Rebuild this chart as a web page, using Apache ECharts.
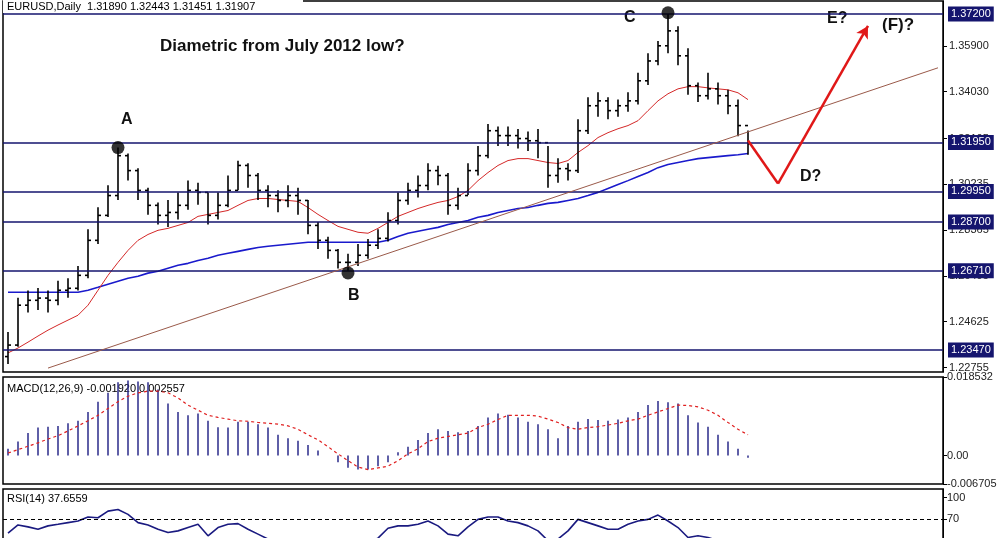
<!DOCTYPE html>
<html>
<head>
<meta charset="utf-8">
<script src="https://cdn.jsdelivr.net/npm/echarts@6/dist/echarts.min.js"></script>
<style>
  html, body { margin: 0; padding: 0; background: #fff; }
  #chart { width: 1001px; height: 538px; }
</style>
</head>
<body>
<div id="chart"></div>
<script>
// daily EURUSD bars
const closes = [
  1.2367,1.2530,1.2550,1.2559,1.2550,1.2591,1.2599,1.2652,1.2795,1.2897,
  1.2978,1.3141,1.3080,1.2999,1.2938,1.2897,1.2909,1.2938,1.2999,1.2991,
  1.2897,1.2938,1.2999,1.3101,1.3060,1.2999,1.2978,1.2958,1.2978,1.2958,
  1.2856,1.2795,1.2754,1.2705,1.2705,1.2734,1.2775,1.2803,1.2876,1.2958,
  1.2999,1.3019,1.3080,1.3060,1.2938,1.2978,1.3080,1.3141,1.3243,1.3223,
  1.3223,1.3211,1.3202,1.3194,1.3060,1.3088,1.3080,1.3243,1.3345,1.3365,
  1.3325,1.3345,1.3365,1.3447,1.3528,1.3590,1.3651,1.3549,1.3427,1.3386,
  1.3414,1.3386,1.3345,1.3264,1.3190
];
const highs = [
  1.2420,1.2560,1.2590,1.2600,1.2590,1.2630,1.2640,1.2690,1.2840,1.2930,
  1.3020,1.3174,1.3150,1.3090,1.3010,1.2950,1.2960,1.2990,1.3040,1.3030,
  1.2990,1.2990,1.3060,1.3120,1.3110,1.3070,1.3020,1.3000,1.3020,1.3010,
  1.2960,1.2870,1.2810,1.2760,1.2740,1.2780,1.2800,1.2840,1.2910,1.2990,
  1.3030,1.3060,1.3110,1.3100,1.3070,1.3010,1.3110,1.3180,1.3270,1.3260,
  1.3260,1.3250,1.3240,1.3250,1.3180,1.3130,1.3110,1.3290,1.3380,1.3400,
  1.3380,1.3370,1.3400,1.3480,1.3560,1.3610,1.3720,1.3670,1.3580,1.3440,
  1.3480,1.3440,1.3410,1.3370,1.3244
];
const lows = [
  1.2290,1.2360,1.2500,1.2510,1.2500,1.2530,1.2560,1.2590,1.2640,1.2780,
  1.2890,1.2960,1.3040,1.2960,1.2900,1.2860,1.2850,1.2880,1.2920,1.2940,
  1.2860,1.2880,1.2930,1.3000,1.3010,1.2960,1.2930,1.2910,1.2930,1.2900,
  1.2820,1.2760,1.2720,1.2680,1.2671,1.2690,1.2720,1.2760,1.2790,1.2860,
  1.2940,1.2970,1.3000,1.3020,1.2900,1.2920,1.2980,1.3060,1.3130,1.3180,
  1.3180,1.3170,1.3160,1.3130,1.3010,1.3030,1.3040,1.3070,1.3230,1.3300,
  1.3290,1.3300,1.3320,1.3350,1.3430,1.3510,1.3560,1.3510,1.3390,1.3360,
  1.3370,1.3350,1.3310,1.3220,1.3145
];
const maFast = [
  1.2335,1.2355,1.2379,1.2404,1.2428,1.2449,1.2469,1.2489,1.2530,1.2591,
  1.2652,1.2705,1.2754,1.2795,1.2819,1.2836,1.2844,1.2856,1.2868,1.2893,
  1.2901,1.2909,1.2917,1.2938,1.2958,1.2966,1.2966,1.2962,1.2958,1.2954,
  1.2929,1.2901,1.2876,1.2852,1.2840,1.2828,1.2824,1.2844,1.2868,1.2893,
  1.2909,1.2925,1.2938,1.2950,1.2958,1.2974,1.2999,1.3039,1.3072,1.3101,
  1.3121,1.3129,1.3129,1.3121,1.3113,1.3109,1.3121,1.3154,1.3182,1.3215,
  1.3235,1.3251,1.3264,1.3284,1.3325,1.3365,1.3394,1.3414,1.3423,1.3423,
  1.3418,1.3414,1.3410,1.3398,1.3370
];
const maSlow = [
  1.2583,1.2583,1.2583,1.2583,1.2583,1.2583,1.2583,1.2583,1.2591,1.2603,
  1.2616,1.2628,1.2640,1.2648,1.2661,1.2669,1.2681,1.2693,1.2701,1.2713,
  1.2722,1.2734,1.2742,1.2750,1.2758,1.2766,1.2771,1.2775,1.2779,1.2783,
  1.2787,1.2787,1.2787,1.2787,1.2787,1.2787,1.2787,1.2787,1.2795,1.2811,
  1.2824,1.2832,1.2840,1.2848,1.2860,1.2868,1.2876,1.2889,1.2897,1.2909,
  1.2917,1.2925,1.2929,1.2938,1.2946,1.2950,1.2958,1.2966,1.2978,1.2991,
  1.3007,1.3023,1.3039,1.3056,1.3072,1.3092,1.3105,1.3113,1.3121,1.3129,
  1.3133,1.3137,1.3141,1.3145,1.3150
];
const macdHist = [
  0.0016,0.0033,0.0053,0.0066,0.0068,0.0070,0.0076,0.0082,0.0103,0.0127,
  0.0148,0.0173,0.0177,0.0175,0.0173,0.0156,0.0123,0.0103,0.0095,0.0099,
  0.0082,0.0067,0.0066,0.0080,0.0080,0.0074,0.0066,0.0049,0.0041,0.0035,
  0.0025,0.0012,0.0000,-0.0016,-0.0029,-0.0033,-0.0033,-0.0025,-0.0016,0.0008,
  0.0021,0.0037,0.0053,0.0062,0.0058,0.0055,0.0058,0.0070,0.0090,0.0099,
  0.0096,0.0090,0.0080,0.0074,0.0062,0.0041,0.0070,0.0080,0.0086,0.0084,
  0.0082,0.0085,0.0090,0.0103,0.0119,0.0129,0.0126,0.0123,0.0095,0.0078,
  0.0068,0.0049,0.0033,0.0016,-0.0005
];
const macdSignal = [
  0.0006,0.0014,0.0022,0.0030,0.0039,0.0047,0.0058,0.0070,0.0082,0.0095,
  0.0111,0.0127,0.0140,0.0148,0.0152,0.0152,0.0148,0.0136,0.0119,0.0107,
  0.0095,0.0090,0.0086,0.0082,0.0081,0.0078,0.0076,0.0074,0.0070,0.0062,
  0.0049,0.0037,0.0021,0.0004,-0.0012,-0.0027,-0.0033,-0.0029,-0.0025,-0.0012,
  0.0004,0.0016,0.0033,0.0041,0.0045,0.0049,0.0053,0.0066,0.0074,0.0085,
  0.0095,0.0095,0.0095,0.0093,0.0086,0.0078,0.0066,0.0062,0.0066,0.0068,
  0.0072,0.0076,0.0082,0.0086,0.0095,0.0103,0.0111,0.0119,0.0118,0.0115,
  0.0107,0.0095,0.0078,0.0062,0.0049
];
const rsi = [
  50.9,62.3,59.6,56.4,61.0,63.2,65.5,67.8,73.2,72.3,
  81.4,83.7,76.9,65.5,62.3,56.4,51.9,54.1,58.7,63.2,
  47.3,58.7,63.2,64.1,56.4,49.6,42.8,40,42,38,
  32,30,28,25,27,33,38,44,57.8,61.0,
  61.0,63.2,67.8,61.0,49.6,47.3,59.6,70.0,73.2,73.2,
  67.8,65.5,61.0,54.1,40.5,42.8,54.1,70.0,65.5,61.0,
  56.4,56.4,63.2,67.8,70.0,75.9,67.8,58.7,45.0,47.3,
  45.0,40.5,38.2,38.2,37.7
];
const levels = [1.3720, 1.3195, 1.2995, 1.2870, 1.2671, 1.2347];
const priceTicks = [1.22755, 1.24625, 1.26495, 1.28365, 1.30235, 1.32105, 1.34030, 1.35900, 1.37770];
const slots = 94; // bar slots across the plot, the right part is left empty

const cats = [];
for (let i = 0; i < slots; i++) cats.push(i);
const ohlc = closes.map((c, i) => [i, i === 0 ? lows[0] + 0.003 : closes[i - 1], c, lows[i], highs[i]]);

const navy = '#15156e';
const font = 'Liberation Sans';

const chart = echarts.init(document.getElementById('chart'));

function ohlcBar(params, api) {
  const x = api.value(0);
  const o = api.coord([x, api.value(1)]);
  const c = api.coord([x, api.value(2)]);
  const l = api.coord([x, api.value(3)]);
  const h = api.coord([x, api.value(4)]);
  const st = { stroke: '#000', lineWidth: 1.6 };
  return {
    type: 'group',
    children: [
      { type: 'line', shape: { x1: h[0], y1: h[1], x2: l[0], y2: l[1] }, style: st },
      { type: 'line', shape: { x1: o[0] - 3, y1: o[1], x2: o[0], y2: o[1] }, style: st },
      { type: 'line', shape: { x1: c[0], y1: c[1], x2: c[0] + 3, y2: c[1] }, style: st }
    ]
  };
}

const xBase = { type: 'category', data: cats, boundaryGap: true, axisLabel: { show: false },
  axisTick: { show: false }, axisLine: { show: false } };
const gridBase = { left: 3, right: 58, show: true, borderColor: '#000', borderWidth: 1.5,
  outerBoundsMode: 'none', containLabel: false };

chart.setOption({
  animation: false,
  backgroundColor: '#fff',
  grid: [
    Object.assign({ top: 1, height: 371 }, gridBase),
    Object.assign({ top: 377, height: 107 }, gridBase),
    Object.assign({ top: 489, height: 81 }, gridBase)
  ],
  xAxis: [
    Object.assign({ gridIndex: 0 }, xBase),
    Object.assign({ gridIndex: 1 }, xBase),
    Object.assign({ gridIndex: 2 }, xBase)
  ],
  yAxis: [
    { gridIndex: 0, position: 'right', min: 1.2257, max: 1.3773, splitLine: { show: false },
      axisLine: { show: true, lineStyle: { color: '#000' } },
      axisTick: { show: true, length: 4, customValues: priceTicks, lineStyle: { color: '#000' } },
      axisLabel: { customValues: priceTicks, formatter: v => v.toFixed(5), color: '#222',
        fontFamily: font, fontSize: 11, margin: 6 } },
    { gridIndex: 1, position: 'right', min: -0.006705, max: 0.018532, splitLine: { show: false },
      axisLine: { show: true, lineStyle: { color: '#000' } },
      axisTick: { show: true, length: 4, customValues: [0.018532, 0, -0.006705], lineStyle: { color: '#000' } },
      axisLabel: { customValues: [0.018532, 0, -0.006705], color: '#222', fontFamily: font, fontSize: 11, margin: 4,
        formatter: v => v === 0 ? '0.00' : String(v) } },
    { gridIndex: 2, position: 'right', min: 0, max: 112, splitLine: { show: false },
      axisLine: { show: true, lineStyle: { color: '#000' } },
      axisTick: { show: true, length: 4, customValues: [70, 100], lineStyle: { color: '#000' } },
      axisLabel: { customValues: [70, 100], color: '#222', fontFamily: font, fontSize: 11, margin: 4 } }
  ],
  series: [
    { type: 'line', xAxisIndex: 0, yAxisIndex: 0, data: maSlow, symbol: 'none',
      lineStyle: { color: '#1a1acc', width: 1.6 }, z: 2,
      markLine: { silent: true, symbol: 'none', precision: 5,
        lineStyle: { color: navy, width: 1.5, type: 'solid' },
        label: { position: 'end', distance: 5, formatter: p => p.name, color: '#fff',
          backgroundColor: navy, padding: [2, 3], fontFamily: font, fontSize: 11 },
        data: levels.map(v => ({ yAxis: v, name: v.toFixed(5) })) } },
    { type: 'line', xAxisIndex: 0, yAxisIndex: 0, data: maFast, symbol: 'none',
      lineStyle: { color: '#d42828', width: 1 }, z: 2,
      markLine: { silent: true, symbol: 'none', label: { show: false },
        lineStyle: { color: '#9a5a4a', width: 1, type: 'solid' },
        data: [[{ coord: [4, 1.2273] }, { coord: [93, 1.3500] }]] } },
    { type: 'custom', xAxisIndex: 0, yAxisIndex: 0, renderItem: ohlcBar, data: ohlc, z: 3,
      encode: { x: 0, y: [1, 2, 3, 4] },
      markLine: { silent: true, label: { show: false }, symbol: ['none', 'arrow'], symbolSize: [10, 12],
        lineStyle: { color: '#e01818', width: 2.5, type: 'solid' },
        data: [
          [{ coord: [74, 1.3203], symbol: 'none' }, { coord: [77, 1.3027], symbol: 'none' }],
          [{ coord: [77, 1.3027], symbol: 'none' }, { coord: [86, 1.3671] }]
        ] } },
    { type: 'scatter', xAxisIndex: 0, yAxisIndex: 0, symbolSize: 13, itemStyle: { color: '#000' }, z: 5,
      data: [[11, 1.3174], [34, 1.2662], [66, 1.3725]] },
    { type: 'bar', xAxisIndex: 1, yAxisIndex: 1, data: macdHist, barWidth: 1.5,
      itemStyle: { color: '#2a2a8a' } },
    { type: 'line', xAxisIndex: 1, yAxisIndex: 1, data: macdSignal, symbol: 'none',
      lineStyle: { color: '#e02020', width: 1.2, type: [3, 3] }, z: 3 },
    { type: 'line', xAxisIndex: 2, yAxisIndex: 2, data: rsi, symbol: 'none',
      lineStyle: { color: '#1a1a80', width: 1.6 },
      markLine: { silent: true, symbol: 'none', label: { show: false },
        lineStyle: { color: '#000', width: 1, type: [4, 3] }, data: [{ yAxis: 70 }] } }
  ],
  graphic: [
    { type: 'rect', left: 3, top: 0, shape: { width: 300, height: 13 }, style: { fill: '#fff' }, z: 10 },
    { type: 'text', left: 7, top: 1, z: 11, style: { text: 'EURUSD,Daily  1.31890 1.32443 1.31451 1.31907',
      fill: '#000', font: '11px "Liberation Sans"' } },
    { type: 'text', left: 160, top: 38, style: { text: 'Diametric from July 2012 low?', fill: '#111',
      font: 'bold 17px "Liberation Sans"' } },
    { type: 'text', left: 121, top: 112, style: { text: 'A', fill: '#111', font: 'bold 16px "Liberation Sans"' } },
    { type: 'text', left: 348, top: 288, style: { text: 'B', fill: '#111', font: 'bold 16px "Liberation Sans"' } },
    { type: 'text', left: 624, top: 10, style: { text: 'C', fill: '#111', font: 'bold 16px "Liberation Sans"' } },
    { type: 'text', left: 800, top: 169, style: { text: 'D?', fill: '#111', font: 'bold 16px "Liberation Sans"' } },
    { type: 'text', left: 827, top: 11, style: { text: 'E?', fill: '#111', font: 'bold 16px "Liberation Sans"' } },
    { type: 'text', left: 882, top: 17, style: { text: '(F)?', fill: '#111', font: 'bold 17px "Liberation Sans"' } },
    { type: 'text', left: 7, top: 383, style: { text: 'MACD(12,26,9) -0.001920 0.002557', fill: '#000',
      font: '11px "Liberation Sans"' } },
    { type: 'text', left: 7, top: 493, style: { text: 'RSI(14) 37.6559', fill: '#000',
      font: '11px "Liberation Sans"' } }
  ]
});
</script>
</body>
</html>
